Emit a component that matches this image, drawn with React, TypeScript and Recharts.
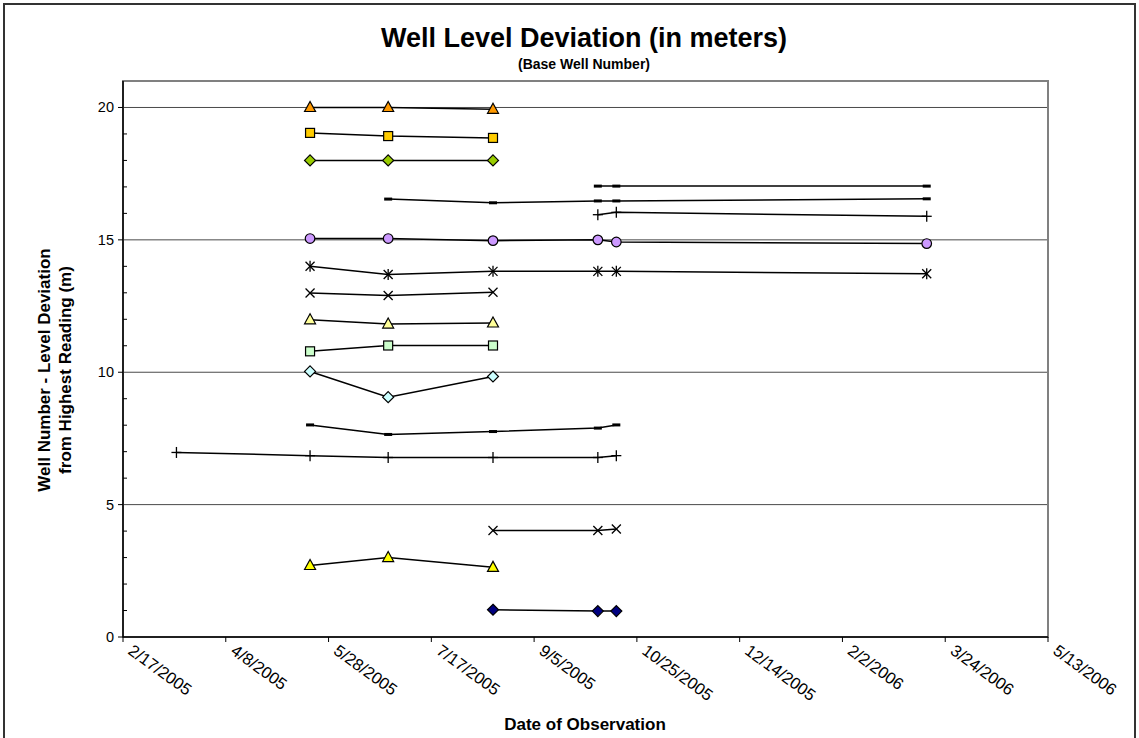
import React from 'react';
import { LineChart, Line, XAxis, YAxis, CartesianGrid, ReferenceArea } from 'recharts';

// ---- data ----
const observationDates = ['3/15/2005', '5/19/2005', '6/26/2005', '8/16/2005', '10/6/2005', '10/15/2005', '3/15/2006'];
const xTickLabels = ['2/17/2005', '4/8/2005', '5/28/2005', '7/17/2005', '9/5/2005', '10/25/2005', '12/14/2005', '2/2/2006', '3/24/2006', '5/13/2006'];
const yMajorTicks = [0, 5, 10, 15, 20];
const yMinorTicks = [1, 2, 3, 4, 6, 7, 8, 9, 11, 12, 13, 14, 16, 17, 18, 19];
const yMax = 21;

const well20 = [null, 20.0, 20.0, 19.93, null, null, null];
const well19 = [null, 19.04, 18.92, 18.85, null, null, null];
const well18 = [null, 18.0, 18.0, 18.0, null, null, null];
const well17 = [null, null, null, null, 17.03, 17.03, 17.03];
const well16b = [null, null, 16.54, 16.4, 16.47, 16.47, 16.55];
const well16 = [null, null, null, null, 15.95, 16.04, 15.89];
const well15 = [null, 15.05, 15.05, 14.97, 15.0, 14.92, 14.86];
const well14 = [null, 14.0, 13.69, 13.81, 13.81, 13.81, 13.72];
const well13 = [null, 12.99, 12.9, 13.02, null, null, null];
const well12 = [null, 11.98, 11.82, 11.86, null, null, null];
const well11 = [null, 10.79, 11.01, 11.01, null, null, null];
const well10 = [null, 10.03, 9.06, 9.84, null, null, null];
const well8 = [null, 8.01, 7.65, 7.76, 7.89, 8.01, null];
const well7 = [6.97, 6.85, 6.78, 6.78, 6.78, 6.85, null];
const well4 = [null, null, null, 4.02, 4.02, 4.08, null];
const well3 = [null, 2.7, 3.0, 2.63, null, null, null];
const well1 = [null, null, null, 1.03, 0.98, 0.98, null];

type Shape = 'triangle' | 'square' | 'diamond' | 'circle' | 'dash' | 'plus' | 'star' | 'cross';

const seriesDefs: { key: string; values: (number | null)[]; shape: Shape; fill: string }[] = [
  { key: 'well20', values: well20, shape: 'triangle', fill: '#FF9900' },
  { key: 'well19', values: well19, shape: 'square', fill: '#FFCC00' },
  { key: 'well18', values: well18, shape: 'diamond', fill: '#99CC00' },
  { key: 'well17', values: well17, shape: 'dash', fill: '#000000' },
  { key: 'well16b', values: well16b, shape: 'dash', fill: '#000000' },
  { key: 'well16', values: well16, shape: 'plus', fill: '#000000' },
  { key: 'well15', values: well15, shape: 'circle', fill: '#CC99FF' },
  { key: 'well14', values: well14, shape: 'star', fill: '#000000' },
  { key: 'well13', values: well13, shape: 'cross', fill: '#000000' },
  { key: 'well12', values: well12, shape: 'triangle', fill: '#FFFF99' },
  { key: 'well11', values: well11, shape: 'square', fill: '#CCFFCC' },
  { key: 'well10', values: well10, shape: 'diamond', fill: '#CCFFFF' },
  { key: 'well8', values: well8, shape: 'dash', fill: '#000000' },
  { key: 'well7', values: well7, shape: 'plus', fill: '#000000' },
  { key: 'well4', values: well4, shape: 'cross', fill: '#000000' },
  { key: 'well3', values: well3, shape: 'triangle', fill: '#FFFF00' },
  { key: 'well1', values: well1, shape: 'diamond', fill: '#000080' },
];

const toDay = (s: string) => {
  const [m, d, y] = s.split('/').map(Number);
  return Date.UTC(y, m - 1, d) / 86400000;
};

const xTicks = xTickLabels.map(toDay);
const tickLabelMap: Record<number, string> = {};
xTickLabels.forEach((l) => (tickLabelMap[toDay(l)] = l));

const chartData = observationDates.map((d, i) => {
  const row: Record<string, number | null> = { t: toDay(d) };
  seriesDefs.forEach((s) => (row[s.key] = s.values[i]));
  return row;
});

const FONT = '"Liberation Sans", Arial, sans-serif';

function renderMarker(p: any, shape: Shape, fill: string) {
  const { cx, cy, index, value } = p;
  const k = `${p.dataKey}-${index}`;
  if (cx == null || cy == null || value == null || (Array.isArray(value) && value[1] == null)) return <g key={k} />;
  const s = { stroke: '#000', strokeWidth: 1.2 };
  switch (shape) {
    case 'triangle':
      return <polygon key={k} points={`${cx},${cy - 6} ${cx + 5.5},${cy + 4} ${cx - 5.5},${cy + 4}`} fill={fill} {...s} />;
    case 'square':
      return <rect key={k} x={cx - 4.5} y={cy - 4.5} width={9} height={9} fill={fill} {...s} />;
    case 'diamond':
      return <polygon key={k} points={`${cx},${cy - 5.5} ${cx + 5.5},${cy} ${cx},${cy + 5.5} ${cx - 5.5},${cy}`} fill={fill} {...s} />;
    case 'circle':
      return <circle key={k} cx={cx} cy={cy} r={4.8} fill={fill} {...s} />;
    case 'dash':
      return <rect key={k} x={cx - 4} y={cy - 1.5} width={8} height={3} fill="#000" />;
    case 'plus':
      return (
        <g key={k} {...s} strokeWidth={1.3}>
          <line x1={cx - 5} x2={cx + 5} y1={cy} y2={cy} />
          <line x1={cx} x2={cx} y1={cy - 5.5} y2={cy + 5.5} />
        </g>
      );
    case 'star':
      return (
        <g key={k} {...s} strokeWidth={1.3}>
          <line x1={cx - 4.5} x2={cx + 4.5} y1={cy - 4.5} y2={cy + 4.5} />
          <line x1={cx - 4.5} x2={cx + 4.5} y1={cy + 4.5} y2={cy - 4.5} />
          <line x1={cx} x2={cx} y1={cy - 5.5} y2={cy + 5.5} />
        </g>
      );
    case 'cross':
      return (
        <g key={k} {...s} strokeWidth={1.3}>
          <line x1={cx - 4.5} x2={cx + 4.5} y1={cy - 4.5} y2={cy + 4.5} />
          <line x1={cx - 4.5} x2={cx + 4.5} y1={cy + 4.5} y2={cy - 4.5} />
        </g>
      );
  }
  return <g key={k} />;
}

const YTick = (props: any) => {
  const { x, y, payload } = props;
  const major = yMajorTicks.includes(payload.value);
  return (
    <g>
      {major ? (
        <line x1={x - 5} x2={x} y1={y} y2={y} stroke="#000" strokeWidth={1} />
      ) : (
        <line x1={x} x2={x + 4} y1={y} y2={y} stroke="#000" strokeWidth={1} />
      )}
      {major && (
        <text x={x - 9} y={y} dy={5} textAnchor="end" fontSize={14.5} fontFamily={FONT} fill="#000">
          {payload.value}
        </text>
      )}
    </g>
  );
};

const XTick = (props: any) => {
  const { x, y, payload } = props;
  const tx = x + 4;
  const ty = y + 9;
  return (
    <text x={tx} y={ty} transform={`rotate(36, ${tx}, ${ty})`} textAnchor="start" fontSize={16.5} fontFamily={FONT} fill="#000">
      {tickLabelMap[payload.value]}
    </text>
  );
};

export default function App() {
  return (
    <div style={{ position: 'absolute', left: 0, top: 0, width: 1139, height: 738, background: '#fff', overflow: 'hidden', fontFamily: FONT }}>
      <div style={{ position: 'absolute', left: 3, top: 3, width: 1133, height: 760, border: '2px solid #333', boxSizing: 'border-box' }} />
      <LineChart width={1139} height={738} data={chartData} margin={{ top: 81, right: 91, left: 0, bottom: 0 }}>
        <CartesianGrid horizontalValues={[5, 10, 15, 20]} vertical={false} stroke="#4a4a4a" strokeWidth={1} />
        <ReferenceArea x1={xTicks[0]} x2={xTicks[xTicks.length - 1]} y1={0} y2={yMax} fill="none" stroke="#808080" strokeWidth={2} ifOverflow="visible" />
        <XAxis
          type="number"
          dataKey="t"
          domain={[xTicks[0], xTicks[xTicks.length - 1]]}
          ticks={xTicks}
          interval={0}
          tickSize={5}
          tickLine={{ stroke: '#000' }}
          axisLine={{ stroke: '#000', strokeWidth: 1.5 }}
          tick={<XTick />}
          height={101}
        />
        <YAxis
          type="number"
          domain={[0, yMax]}
          ticks={[...yMajorTicks, ...yMinorTicks].sort((a, b) => a - b)}
          interval={0}
          tickSize={0}
          tickMargin={0}
          tickLine={false}
          axisLine={{ stroke: '#000', strokeWidth: 1.5 }}
          tick={<YTick />}
          width={123}
        />
        {seriesDefs.map((s) => (
          <Line
            key={s.key}
            type="linear"
            dataKey={s.key}
            stroke="#000"
            strokeWidth={1.5}
            isAnimationActive={false}
            connectNulls={false}
            dot={(p: any) => renderMarker(p, s.shape, s.fill)}
            activeDot={false}
          />
        ))}
      </LineChart>
      <div style={{ position: 'absolute', left: 584, top: 25, transform: 'translateX(-50%)', whiteSpace: 'nowrap', fontSize: 27, fontWeight: 'bold', lineHeight: '27px' }}>
        Well Level Deviation (in meters)
      </div>
      <div style={{ position: 'absolute', left: 584, top: 57, transform: 'translateX(-50%)', whiteSpace: 'nowrap', fontSize: 14, fontWeight: 'bold', lineHeight: '14px' }}>
        (Base Well Number)
      </div>
      <div style={{ position: 'absolute', left: 55, top: 370, transform: 'translate(-50%, -50%) rotate(-90deg)', whiteSpace: 'nowrap', textAlign: 'center', fontSize: 17, fontWeight: 'bold', lineHeight: '21px' }}>
        Well Number - Level Deviation
        <br />
        from Highest Reading (m)
      </div>
      <div style={{ position: 'absolute', left: 585, top: 716, transform: 'translateX(-50%)', whiteSpace: 'nowrap', fontSize: 17, fontWeight: 'bold', lineHeight: '17px' }}>
        Date of Observation
      </div>
    </div>
  );
}
